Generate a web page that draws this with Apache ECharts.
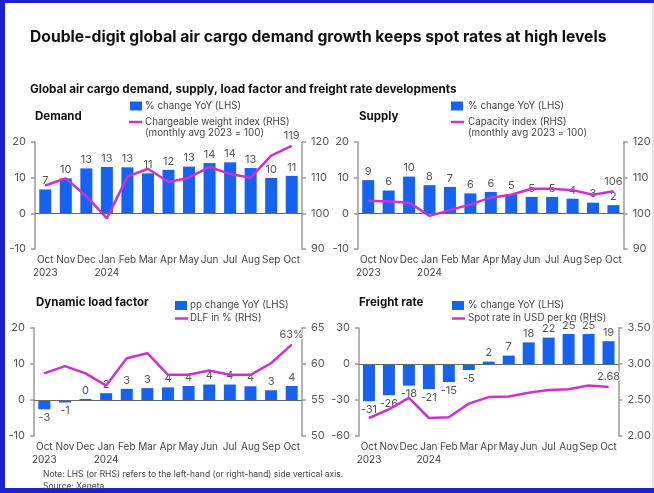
<!DOCTYPE html>
<html>
<head>
<meta charset="utf-8">
<script src="https://cdn.jsdelivr.net/npm/echarts@6/dist/echarts.min.js"></script>
<style>
html,body{margin:0;padding:0;background:#fff;}
#chart{width:654px;height:493px;}
</style>
</head>
<body>
<div id="chart"></div>
<script>
const months = ['Oct\n2023','Nov','Dec','Jan\n2024','Feb','Mar','Apr','May','Jun','Jul','Aug','Sep','Oct'];
const demandYoY = [6.7, 9.8, 12.6, 13.0, 12.9, 11.2, 12.2, 13.1, 14.1, 14.3, 12.7, 9.9, 10.5];
const demandIndex = [107.8, 109.8, 104.8, 98.6, 110.3, 112.5, 108.8, 110.0, 113.0, 111.0, 110.0, 116.2, 118.9];
const supplyYoY = [9.3, 6.4, 10.3, 7.9, 7.4, 5.6, 6.0, 5.3, 4.6, 4.6, 4.1, 3.0, 2.3];
const supplyIndex = [103.5, 103.3, 103.0, 99.3, 100.9, 102.5, 104.4, 105.2, 106.9, 106.9, 106.5, 105.2, 106.2];
const dlfYoY = [-2.6, -0.7, 0.3, 1.9, 3.1, 3.3, 3.5, 3.9, 4.3, 4.3, 3.8, 2.7, 3.9];
const dlfPct = [58.7, 59.7, 58.7, 57.0, 60.8, 61.5, 58.5, 58.5, 59.1, 58.5, 58.5, 60.1, 62.7];
const freightYoY = [-31, -26, -18, -21, -15, -5, 2, 7, 18, 22, 25, 25, 19];
const spotRate = [2.25, 2.37, 2.53, 2.25, 2.26, 2.45, 2.54, 2.55, 2.60, 2.64, 2.65, 2.70, 2.68];

const leftTicks = {demand:[-10,20,10], supply:[-10,20,10], dlf:[-10,20,10], freight:[-60,30,30]};
const rightTicks = {demand:[90,120,10], supply:[90,120,10], dlf:[50,65,5], freight:[2.0,3.5,0.5]};

const FONT = 'Inter, "Noto Sans", sans-serif';
const BLUE = '#1662f2';
const MAG = '#cf30d3';
const AXIS = '#9a9a9a';
const LBL = '#555';

const grids = [
  {left:35, top:142, width:267, height:107},
  {left:358, top:142, width:268, height:107},
  {left:34, top:328, width:268, height:108},
  {left:359, top:328, width:267, height:108}
];

const xAxes = grids.map((g,i)=>({
  type:'category', gridIndex:i, data:months,
  axisLine:{show:false}, axisTick:{show:false},
  axisLabel:{interval:0, color:'#444', fontSize:10, fontFamily:FONT, lineHeight:13, margin:4}
}));

function yAx(i, pos, t, fmt){
  return {
    type:'value', gridIndex:i, position:pos, min:t[0], max:t[1], interval:t[2],
    axisLine:{show:true, lineStyle:{color:AXIS, width:1.5}},
    axisTick:{show:true, length:4, lineStyle:{color:AXIS, width:1.5}},
    splitLine:{show:false},
    axisLabel:{color:LBL, fontSize:11, fontFamily:FONT, margin:9, formatter:fmt}
  };
}
const keys = ['demand','supply','dlf','freight'];
const yAxes = [];
keys.forEach((k,i)=>{
  yAxes.push(yAx(i,'left',leftTicks[k]));
  yAxes.push(yAx(i,'right',rightTicks[k], k==='freight' ? (v=>v.toFixed(2)) : undefined));
});

function barData(arr){
  return arr.map(v => v < 0 ? {value:v, label:{position:'bottom'}} : v);
}
function lineData(arr, fmt){
  return arr.map((v,i)=> i===arr.length-1 ? {value:v, label:{show:true, formatter:fmt(v)}} : v);
}
const labelStyle = {color:LBL, fontSize:11, fontFamily:FONT, textBorderColor:'#fff', textBorderWidth:2};

function barSeries(i, arr){
  return {
    type:'bar', xAxisIndex:i, yAxisIndex:i*2, data:barData(arr), barWidth:12,
    itemStyle:{color:BLUE},
    label:Object.assign({show:true, position:'top', distance:3, formatter:p=>String(Math.round(p.value))}, labelStyle),
    markLine:{silent:true, symbol:'none', label:{show:false}, lineStyle:{color:'#666', type:'solid', width:1.2},
      data:[{yAxis:0}]},
    z:2
  };
}
function lineSeries(i, arr, fmt){
  return {
    type:'line', xAxisIndex:i, yAxisIndex:i*2+1, data:lineData(arr, fmt),
    symbol:'circle', symbolSize:1, showSymbol:true,
    lineStyle:{color:MAG, width:2.5}, itemStyle:{color:MAG},
    label:Object.assign({show:false, position:'top', distance:4}, labelStyle),
    z:3
  };
}

const series = [
  barSeries(0, demandYoY), lineSeries(0, demandIndex, v=>String(Math.round(v))),
  barSeries(1, supplyYoY), lineSeries(1, supplyIndex, v=>String(Math.round(v))),
  barSeries(2, dlfYoY), lineSeries(2, dlfPct, v=>Math.round(v)+'%'),
  barSeries(3, freightYoY), lineSeries(3, spotRate, v=>v.toFixed(2))
];

function txt(x, y, text, size, weight, color){
  return {type:'text', x:x, y:y, silent:true,
    style:{text:text, fontSize:size, fontWeight:weight||'normal', fontFamily:FONT, fill:color||'#111', verticalAlign:'middle', align:'left'}};
}
function sq(x,y){ return {type:'rect', silent:true, shape:{x:x, y:y, width:12, height:9}, style:{fill:BLUE}}; }
function ln(x,y){ return {type:'line', silent:true, shape:{x1:x, y1:y, x2:x+13, y2:y}, style:{stroke:MAG, lineWidth:2.5}}; }

const BC = '#1c1fd2';
const LG = 9.8;
const graphics = [
  {type:'rect', silent:true, shape:{x:0,y:0,width:654,height:3}, style:{fill:BC}},
  {type:'rect', silent:true, shape:{x:0,y:0,width:5,height:493}, style:{fill:BC}},
  {type:'rect', silent:true, shape:{x:0,y:488,width:654,height:5}, style:{fill:BC}},
  {type:'rect', silent:true, shape:{x:652,y:3,width:2,height:485}, style:{fill:'#e4e4e4'}},
  txt(30, 37, 'Double-digit global air cargo demand growth keeps spot rates at high levels', 15.7, 'bold', '#111'),
  txt(30, 89, 'Global air cargo demand, supply, load factor and freight rate developments', 11.7, 'bold', '#111'),
  txt(35, 117, 'Demand', 11.5, 'bold', '#111'),
  txt(359, 117, 'Supply', 11.5, 'bold', '#111'),
  txt(36, 303, 'Dynamic load factor', 11.5, 'bold', '#111'),
  txt(359, 303, 'Freight rate', 11.5, 'bold', '#111'),
  sq(130, 101.5), txt(145, 106, '% change YoY (LHS)', LG, 'normal', '#444'),
  ln(129, 122), txt(145, 122, 'Chargeable weight index (RHS)', LG, 'normal', '#444'),
  txt(145, 133, '(monthly avg 2023 = 100)', LG, 'normal', '#444'),
  sq(451, 101.5), txt(468, 106, '% change YoY (LHS)', LG, 'normal', '#444'),
  ln(451, 122), txt(468, 122, 'Capacity index (RHS)', LG, 'normal', '#444'),
  txt(468, 133, '(monthly avg 2023 = 100)', LG, 'normal', '#444'),
  sq(175, 301), txt(190, 305, 'pp change YoY (LHS)', LG, 'normal', '#444'),
  ln(175, 318.5), txt(190, 318, 'DLF in % (RHS)', LG, 'normal', '#444'),
  sq(452, 301), txt(468, 305, '% change YoY (LHS)', LG, 'normal', '#444'),
  ln(452, 318.5), txt(468, 318, 'Spot rate in USD per kg (RHS)', LG, 'normal', '#444'),
  txt(43, 474, 'Note: LHS (or RHS) refers to the left-hand (or right-hand) side vertical axis.', 8.5, 'normal', '#444'),
  txt(43, 486, 'Source: Xeneta', 8.5, 'normal', '#444')
];

const chart = echarts.init(document.getElementById('chart'), null, {renderer:'canvas'});
chart.setOption({
  animation:false,
  backgroundColor:'#fff',
  grid:grids,
  xAxis:xAxes,
  yAxis:yAxes,
  series:series,
  graphic:graphics
});
</script>
</body>
</html>
